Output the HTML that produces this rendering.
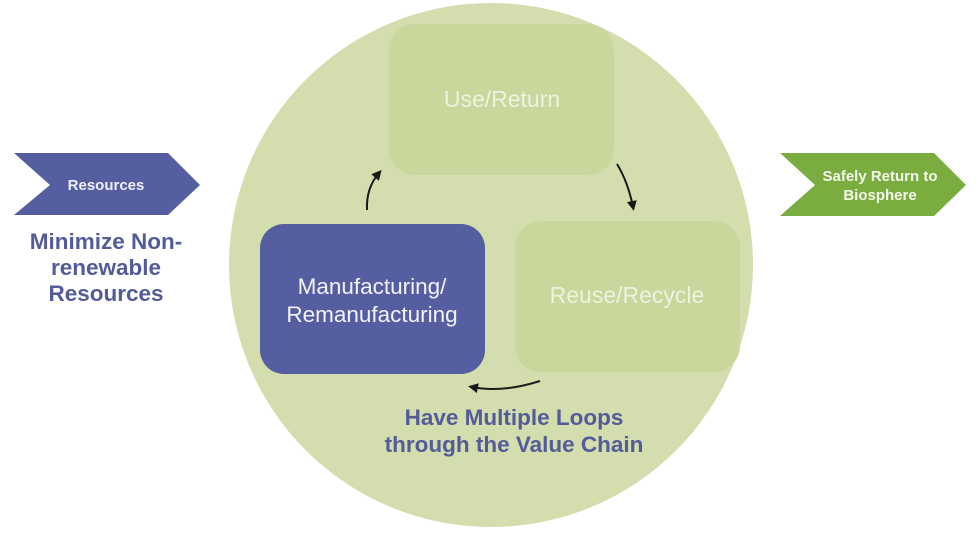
<!DOCTYPE html>
<html><head><meta charset="utf-8"><style>
body{margin:0;background:#fff;}
svg{display:block;}
text{font-family:"Liberation Sans",Arial,sans-serif;}
</style></head><body>
<svg width="980" height="557" viewBox="0 0 980 557" xmlns="http://www.w3.org/2000/svg">
<defs>
<marker id="ah" markerWidth="10" markerHeight="10" refX="6" refY="5" orient="auto" markerUnits="userSpaceOnUse">
<path d="M0,0 L10,5 L0,10 Z" fill="#1a1a1a"/>
</marker>
</defs>
<circle cx="491" cy="265" r="262" fill="#d3ddae"/>
<rect x="389" y="24" width="225" height="151" rx="26" fill="#c9d79d"/>
<rect x="515" y="221" width="225" height="151" rx="26" fill="#c9d79d"/>
<rect x="260" y="224" width="225" height="150" rx="24" fill="#555ea0"/>
<text x="502" y="107" text-anchor="middle" font-size="23" fill="#eef2de">Use/Return</text>
<text x="627" y="303" text-anchor="middle" font-size="23" fill="#eef2de">Reuse/Recycle</text>
<text x="372" y="294" text-anchor="middle" font-size="22.5" fill="#f2f2f8">Manufacturing/</text>
<text x="372" y="322" text-anchor="middle" font-size="22.5" fill="#f2f2f8">Remanufacturing</text>
<path d="M367,210 Q366,188 379,173" fill="none" stroke="#1a1a1a" stroke-width="2" marker-end="url(#ah)"/>
<path d="M617,164 Q628,182 633,207" fill="none" stroke="#1a1a1a" stroke-width="2" marker-end="url(#ah)"/>
<path d="M540,381 Q502,393 472,387" fill="none" stroke="#1a1a1a" stroke-width="2" marker-end="url(#ah)"/>
<text x="514" y="425" text-anchor="middle" font-size="22.5" font-weight="bold" fill="#535b98">Have Multiple Loops</text>
<text x="514" y="452" text-anchor="middle" font-size="22.5" font-weight="bold" fill="#535b98">through the Value Chain</text>
<polygon points="14,153 168,153 200,185 168,215 14,215 50,185" fill="#555ea0"/>
<text x="106" y="190" text-anchor="middle" font-size="15" font-weight="bold" fill="#eef0f8">Resources</text>
<text x="106" y="249" text-anchor="middle" font-size="22.5" font-weight="bold" fill="#535b98">Minimize Non-</text>
<text x="106" y="275" text-anchor="middle" font-size="22.5" font-weight="bold" fill="#535b98">renewable</text>
<text x="106" y="301" text-anchor="middle" font-size="22.5" font-weight="bold" fill="#535b98">Resources</text>
<polygon points="780,153 934,153 966,185 934,216 780,216 815,185" fill="#7aac3f"/>
<text x="880" y="181" text-anchor="middle" font-size="15" font-weight="bold" fill="#f4f8ec">Safely Return to</text>
<text x="880" y="200" text-anchor="middle" font-size="15" font-weight="bold" fill="#f4f8ec">Biosphere</text>
</svg>
</body></html>
